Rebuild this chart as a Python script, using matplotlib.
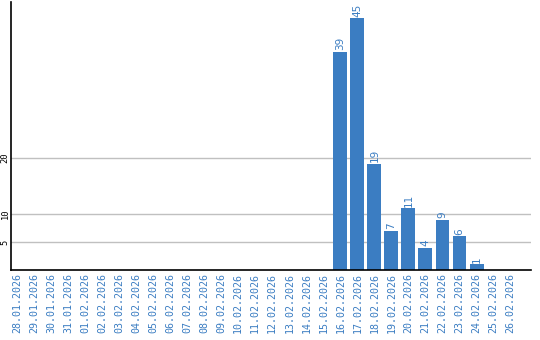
import matplotlib
matplotlib.use("Agg")
import matplotlib.pyplot as plt

# 日期与数值
dates = ["28.01.2026", "29.01.2026", "30.01.2026", "31.01.2026", "01.02.2026",
         "02.02.2026", "03.02.2026", "04.02.2026", "05.02.2026", "06.02.2026",
         "07.02.2026", "08.02.2026", "09.02.2026", "10.02.2026", "11.02.2026",
         "12.02.2026", "13.02.2026", "14.02.2026", "15.02.2026", "16.02.2026",
         "17.02.2026", "18.02.2026", "19.02.2026", "20.02.2026", "21.02.2026",
         "22.02.2026", "23.02.2026", "24.02.2026", "25.02.2026", "26.02.2026"]
values = [0, 0, 0, 0, 0, 0, 0, 0, 0, 0,
          0, 0, 0, 0, 0, 0, 0, 0, 0, 39,
          45, 19, 7, 11, 4, 9, 6, 1, 0, 0]
y_ticks = [5, 10, 20]

BLUE = "#3b7dc2"

fig = plt.figure(figsize=(5.4, 3.4), dpi=100)
ax = fig.add_axes([11 / 540, 70 / 340, 520 / 540, 268 / 340])

x = list(range(len(dates)))
ax.bar(x, values, width=0.82, color=BLUE, zorder=2)

# 柱顶数值
for i, v in enumerate(values):
    if v > 0:
        ax.text(i, v + 0.3, str(v), rotation=90, ha="center", va="bottom",
                color=BLUE, fontsize=7.5, family="DejaVu Sans")

ax.set_xlim(-0.35, 30.2)
ax.set_ylim(0, 47.9)
ax.set_xticks(x)
ax.set_xticklabels(dates, rotation=90, color=BLUE, fontsize=7.2,
                   family="DejaVu Sans Mono")
ax.set_yticks(y_ticks)
ax.set_yticklabels([str(t) for t in y_ticks], rotation=90, va="center",
                   fontsize=6.3, family="DejaVu Sans Mono")
ax.tick_params(axis="both", length=0, pad=2)
ax.tick_params(axis="y", pad=1)
ax.grid(axis="y", color="#c0c0c0", linewidth=1, zorder=0)

for side in ["top", "right"]:
    ax.spines[side].set_visible(False)
ax.spines["left"].set_linewidth(1.2)
ax.spines["bottom"].set_linewidth(1.2)

fig.savefig("out.png", dpi=100)
